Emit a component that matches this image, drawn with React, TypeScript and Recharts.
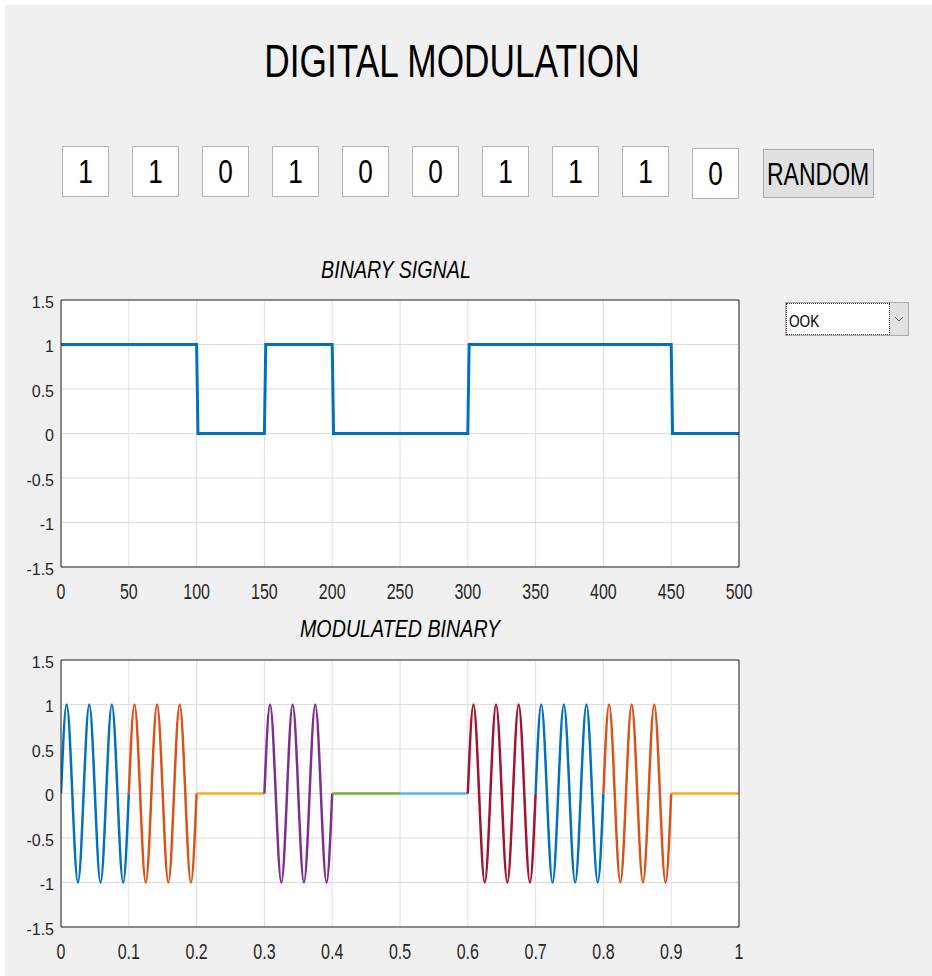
import { LineChart, Line, XAxis, YAxis, CartesianGrid } from "recharts";

// bit pattern shown in the edit boxes
const bits = [1, 1, 0, 1, 0, 0, 1, 1, 1, 0];
const samplesPerBit = 50;
const bitTime = 0.1;
// carrier over one bit, read at zero crossings and peaks (3 cycles per bit)
const carrierPerBit = [0, 1, 0, -1, 0, 1, 0, -1, 0, 1, 0, -1, 0];
// matlab default color order, one per bit segment
const segmentColors = [
  "#0072BD",
  "#D95319",
  "#EDB120",
  "#7E2F8E",
  "#77AC30",
  "#4DBEEE",
  "#A2142F",
  "#0072BD",
  "#D95319",
  "#EDB120",
];
const yTicks = [-1.5, -1, -0.5, 0, 0.5, 1, 1.5];
const sampleTicks = [0, 50, 100, 150, 200, 250, 300, 350, 400, 450, 500];
const timeTicks = [0, 0.1, 0.2, 0.3, 0.4, 0.5, 0.6, 0.7, 0.8, 0.9, 1];
const modulation = "OOK";

const FONT = '"Liberation Sans", Arial, Helvetica, sans-serif';
const AXIS = "#262626";
const TEXT = "#262626";

const binaryRows = bits.flatMap((b, i) => [
  { n: i * samplesPerBit + (i === 0 ? 0 : 1), v: b },
  { n: (i + 1) * samplesPerBit, v: b },
]);

const steps = carrierPerBit.length - 1;
const modRows: Record<string, number>[] = [];
for (let k = 0; k <= bits.length * steps; k++) {
  const row: Record<string, number> = { t: (k * bitTime) / steps };
  bits.forEach((b, i) => {
    const j = k - i * steps;
    if (j >= 0 && j <= steps) row[`s${i}`] = b * carrierPerBit[j];
  });
  modRows.push(row);
}

const XTick = (props: any) => {
  const { x, y, payload } = props;
  return (
    <text
      transform={`translate(${x},${y}) scale(1,1.4)`}
      x={0}
      y={11.5}
      textAnchor="middle"
      fontSize={16}
      fontFamily={FONT}
      fill={TEXT}
    >
      {payload.value}
    </text>
  );
};

function Plot({
  top,
  data,
  xKey,
  xDomain,
  xTicks,
  children,
}: {
  top: number;
  data: any[];
  xKey: string;
  xDomain: [number, number];
  xTicks: number[];
  children: any;
}) {
  const xCommon = {
    dataKey: xKey,
    type: "number" as const,
    domain: xDomain,
    ticks: xTicks,
    interval: 0 as const,
    allowDataOverflow: true,
  };
  const yCommon = {
    type: "number" as const,
    domain: [-1.5, 1.5] as [number, number],
    ticks: yTicks,
    interval: 0 as const,
    allowDataOverflow: true,
  };
  return (
    <div style={{ position: "absolute", left: 0, top, width: 760, height: 360 }}>
      <LineChart
        width={760}
        height={360}
        data={data}
        margin={{ top: 50, right: 21, bottom: 3, left: 0 }}
      >
        <CartesianGrid
          xAxisId="x"
          yAxisId="y"
          stroke="#dedede"
          fill="#ffffff"
          fillOpacity={1}
        />
        <XAxis
          xAxisId="x"
          {...xCommon}
          height={40}
          tickSize={0}
          tickMargin={16}
          tickLine={false}
          axisLine={{ stroke: AXIS }}
          tick={(p: any) => <XTick {...p} />}
        />
        <XAxis
          xAxisId="xin"
          {...xCommon}
          mirror
          tick={false}
          tickSize={8}
          tickLine={{ stroke: AXIS }}
          axisLine={false}
        />
        <XAxis
          xAxisId="xtop"
          orientation="top"
          {...xCommon}
          mirror
          tick={false}
          tickSize={8}
          tickLine={{ stroke: AXIS }}
          axisLine={{ stroke: AXIS }}
        />
        <YAxis
          yAxisId="y"
          {...yCommon}
          width={61}
          tickSize={0}
          tickMargin={7}
          tickLine={false}
          axisLine={{ stroke: AXIS }}
          tick={{ fontSize: 16, fill: TEXT, fontFamily: FONT, dy: 2 }}
        />
        <YAxis
          yAxisId="yin"
          {...yCommon}
          mirror
          tick={false}
          tickSize={7}
          tickLine={{ stroke: AXIS }}
          axisLine={false}
        />
        <YAxis
          yAxisId="yright"
          orientation="right"
          {...yCommon}
          mirror
          tick={false}
          tickSize={7}
          tickLine={{ stroke: AXIS }}
          axisLine={{ stroke: AXIS }}
        />
        {children}
      </LineChart>
    </div>
  );
}

export default function App() {
  return (
    <div
      style={{
        position: "absolute",
        left: 0,
        top: 0,
        width: 932,
        height: 976,
        background: "#ffffff",
        fontFamily: FONT,
        overflow: "hidden",
      }}
    >
      <div
        style={{
          position: "absolute",
          left: 5,
          top: 5,
          right: 0,
          bottom: 0,
          background: "#f0f0f0",
        }}
      />

      <svg
        width={932}
        height={976}
        style={{ position: "absolute", left: 0, top: 0, pointerEvents: "none" }}
      >
        <text
          transform="translate(452,77) scale(0.75,1)"
          textAnchor="middle"
          fontSize={47}
          fontFamily={FONT}
          fill="#000"
        >
          DIGITAL MODULATION
        </text>
        <text
          transform="translate(396,278) scale(0.82,1)"
          textAnchor="middle"
          fontSize={24}
          fontStyle="italic"
          fontFamily={FONT}
          fill="#000"
        >
          BINARY SIGNAL
        </text>
        <text
          transform="translate(400,637) scale(0.82,1)"
          textAnchor="middle"
          fontSize={24}
          fontStyle="italic"
          fontFamily={FONT}
          fill="#000"
        >
          MODULATED BINARY
        </text>
      </svg>

      {bits.map((b, i) => (
        <div
          key={i}
          style={{
            position: "absolute",
            left: 62 + 70 * i,
            top: i === bits.length - 1 ? 148 : 146,
            width: 47,
            height: 51,
            boxSizing: "border-box",
            background: "#ffffff",
            border: "1px solid #b4b4b4",
            display: "flex",
            alignItems: "center",
            justifyContent: "center",
          }}
        >
          <span style={{ fontSize: 34, transform: "scaleX(0.77)", color: "#000" }}>
            {b}
          </span>
        </div>
      ))}

      <div
        style={{
          position: "absolute",
          left: 763,
          top: 149,
          width: 111,
          height: 49,
          boxSizing: "border-box",
          background: "#e1e1e1",
          border: "1px solid #adadad",
          display: "flex",
          alignItems: "center",
          justifyContent: "center",
        }}
      >
        <span style={{ fontSize: 32, transform: "scaleX(0.72)", color: "#000", marginTop: 2 }}>
          RANDOM
        </span>
      </div>

      <div
        style={{
          position: "absolute",
          left: 785,
          top: 302,
          width: 124,
          height: 34,
          boxSizing: "border-box",
          background: "#e1e1e1",
          border: "1px solid #adadad",
        }}
      >
        <div
          style={{
            position: "absolute",
            left: 0,
            top: 0,
            width: 104,
            height: 32,
            boxSizing: "border-box",
            background: "#ffffff",
            border: "1px dotted #333",
            display: "flex",
            alignItems: "center",
          }}
        >
          <span
            style={{
              fontSize: 16,
              transform: "scaleX(0.85)",
              transformOrigin: "left center",
              marginLeft: 2,
              marginTop: 5,
              color: "#000",
            }}
          >
            {modulation}
          </span>
        </div>
        <svg width={18} height={32} style={{ position: "absolute", left: 104, top: 0 }}>
          <polyline points="5,14 9,18 13,14" fill="none" stroke="#606060" strokeWidth={1} />
        </svg>
      </div>

      <Plot top={250} data={binaryRows} xKey="n" xDomain={[0, 500]} xTicks={sampleTicks}>
        <Line
          xAxisId="x"
          yAxisId="y"
          dataKey="v"
          type="linear"
          stroke="#0072BD"
          strokeWidth={3}
          dot={false}
          isAnimationActive={false}
        />
      </Plot>

      <Plot top={610} data={modRows} xKey="t" xDomain={[0, 1]} xTicks={timeTicks}>
        {bits.map((_, i) => (
          <Line
            key={i}
            xAxisId="x"
            yAxisId="y"
            dataKey={`s${i}`}
            type="natural"
            stroke={segmentColors[i]}
            strokeWidth={2.5}
            dot={false}
            connectNulls={false}
            isAnimationActive={false}
          />
        ))}
      </Plot>
    </div>
  );
}
